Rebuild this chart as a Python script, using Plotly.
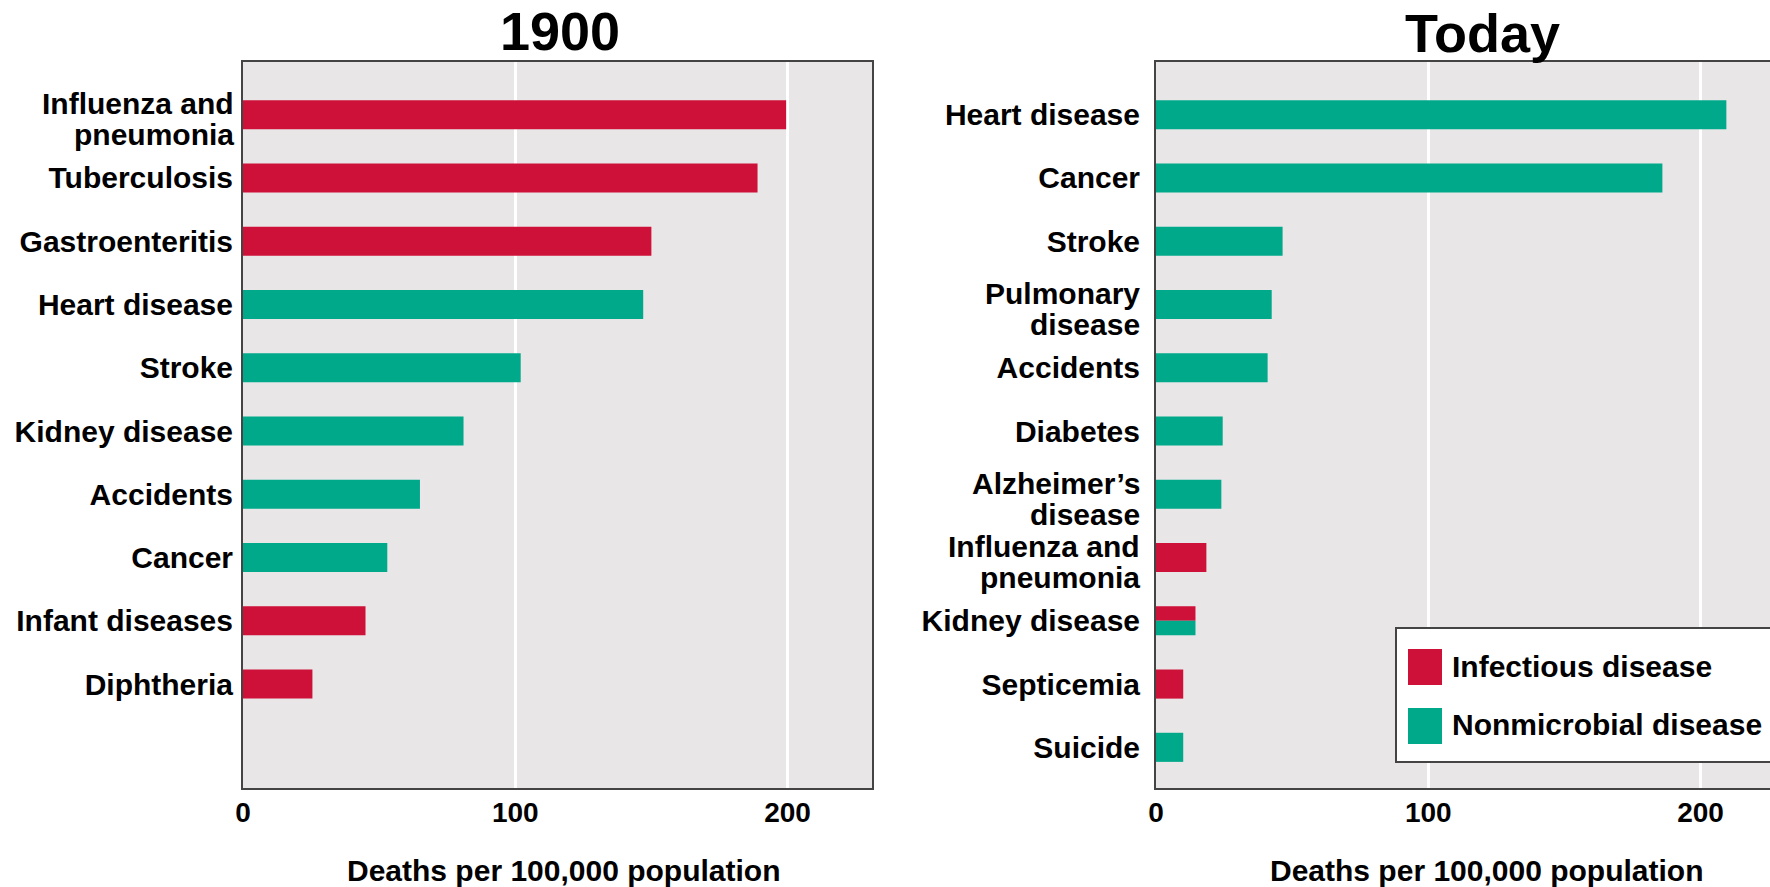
import plotly.graph_objects as go
from plotly.subplots import make_subplots

# ---------------- data ----------------
causes_1900 = ["Influenza and<br>pneumonia", "Tuberculosis", "Gastroenteritis", "Heart disease",
               "Stroke", "Kidney disease", "Accidents", "Cancer", "Infant diseases", "Diphtheria"]
values_1900 = [199.5, 189, 150, 147, 102, 81, 65, 53, 45, 25.5]
types_1900 = ["I", "I", "I", "N", "N", "N", "N", "N", "I", "I"]

causes_today = ["Heart disease", "Cancer", "Stroke", "Pulmonary<br>disease", "Accidents", "Diabetes",
                "Alzheimer’s<br>disease", "Influenza and<br>pneumonia", "Kidney disease", "Septicemia", "Suicide"]
values_today = [209.5, 186, 46.5, 42.5, 41, 24.5, 24, 18.5, 14.5, 10, 10]
# I = infectious, N = nonmicrobial, B = both (split bar)
types_today = ["N", "N", "N", "N", "N", "N", "N", "I", "B", "I", "N"]

panel_titles = ["1900", "Today"]
x_title = "Deaths per 100,000 population"
x_ticks = [0, 100, 200]
legend_names = ["Infectious disease", "Nonmicrobial disease"]

# ---------------- style ----------------
RED = "#CD1139"
TEAL = "#00A98A"
BG = "#E9E6E7"
FRAME = "#444444"
FONT = "Liberation Sans, Arial, Helvetica, sans-serif"
BAR_W = 0.46
W, H = 1770, 887
LABEL_SIZE = 30

fig = make_subplots(rows=1, cols=2)


def add_panel(causes, values, types, col):
    for kind, color in (("I", RED), ("N", TEAL)):
        ys, xs, widths, offsets = [], [], [], []
        for c, v, t in zip(causes, values, types):
            if t == kind:
                ys.append(c); xs.append(v); widths.append(BAR_W); offsets.append(-BAR_W / 2)
            elif t == "B":
                ys.append(c); xs.append(v); widths.append(BAR_W / 2)
                offsets.append(-BAR_W / 2 if kind == "I" else 0)
        fig.add_trace(go.Bar(y=ys, x=xs, orientation="h", marker=dict(color=color, line=dict(width=0)),
                             width=widths, offset=offsets, showlegend=False, hoverinfo="x+y"),
                      row=1, col=col)


add_panel(causes_1900, values_1900, types_1900, 1)
add_panel(causes_today, values_today, types_today, 2)

PX_PER_UNIT = 2.7225
left_x0, left_x1 = 243, 872
right_x0, right_x1 = 1156, W
plot_top, plot_bot = 62, 788
ydom = [1 - plot_bot / H, 1 - plot_top / H]
yrange = [10.643, -0.833]

ytickfont = dict(family=FONT, size=LABEL_SIZE, color="black", weight="bold")
xtickfont = dict(family=FONT, size=28, color="black", weight="bold")

common_x = dict(tickvals=x_ticks, showgrid=True, gridcolor="white", gridwidth=3, zeroline=False,
                showline=True, linecolor=FRAME, linewidth=2, ticks="", tickfont=xtickfont,
                ticklabelstandoff=-2, fixedrange=True, automargin=False)
common_y = dict(type="category", range=yrange, showgrid=False, zeroline=False, showline=True,
                linecolor=FRAME, linewidth=2, ticks="", tickfont=ytickfont,
                fixedrange=True, automargin=False)


def ticktexts(causes):
    # multi-line labels are drawn line by line as annotations (tighter line spacing)
    return [c if "<br>" not in c else "" for c in causes]


fig.update_xaxes(common_x, row=1, col=1, domain=[left_x0 / W, left_x1 / W],
                 range=[0, (left_x1 - left_x0) / PX_PER_UNIT], mirror=True)
fig.update_xaxes(common_x, row=1, col=2, domain=[right_x0 / W, 1.0],
                 range=[0, (right_x1 - right_x0) / PX_PER_UNIT], mirror=True)
fig.update_yaxes(common_y, row=1, col=1, domain=ydom, categoryorder="array",
                 categoryarray=causes_1900, tickvals=causes_1900, ticktext=ticktexts(causes_1900),
                 ticklabelstandoff=2, mirror=True)
fig.update_yaxes(common_y, row=1, col=2, domain=ydom, categoryorder="array",
                 categoryarray=causes_today, tickvals=causes_today, ticktext=ticktexts(causes_today),
                 ticklabelstandoff=8, mirror=False)

annotations = []
# two-line category labels
for causes, ax, gap in ((causes_1900, "", 7), (causes_today, "2", 14)):
    for c in causes:
        if "<br>" in c:
            lines = c.split("<br>")
            for line, shift in zip(lines, (11, -20)):
                annotations.append(dict(text=line, xref=f"x{ax} domain", x=0, xanchor="right",
                                        xshift=-gap, yref=f"y{ax}", y=c, yanchor="middle",
                                        yshift=shift, showarrow=False, align="right",
                                        font=dict(family=FONT, size=LABEL_SIZE, color="black",
                                                  weight="bold")))
# panel titles
annotations.append(dict(text=panel_titles[0], x=560 / W, y=1 - 31 / H, xref="paper", yref="paper",
                        xanchor="center", yanchor="middle", showarrow=False,
                        font=dict(family=FONT, size=54, color="black", weight="bold")))
annotations.append(dict(text=panel_titles[1], x=1482 / W, y=1 - 32.5 / H, xref="paper", yref="paper",
                        xanchor="center", yanchor="middle", showarrow=False,
                        font=dict(family=FONT, size=54, color="black", weight="bold")))
# axis titles
for xc in (563, 1486):
    annotations.append(dict(text=x_title, x=xc / W, y=1 - 870 / H, xref="paper", yref="paper",
                            xanchor="center", yanchor="middle", showarrow=False,
                            font=dict(family=FONT, size=30, color="black", weight="bold")))
# legend texts
for name, yc in zip(legend_names, (666, 724)):
    annotations.append(dict(text=name, x=1450 / W, y=1 - yc / H, xref="paper", yref="paper",
                            xanchor="left", yanchor="middle", showarrow=False,
                            font=dict(family=FONT, size=30, color="black", weight="bold")))

shapes = [
    # legend box
    dict(type="rect", xref="paper", yref="paper", x0=1396 / W, x1=1.01, y0=1 - 762 / H, y1=1 - 628 / H,
         fillcolor="white", line=dict(color=FRAME, width=2), layer="above"),
    dict(type="rect", xref="paper", yref="paper", x0=1408 / W, x1=1442 / W, y0=1 - 685 / H, y1=1 - 649 / H,
         fillcolor=RED, line=dict(width=0), layer="above"),
    dict(type="rect", xref="paper", yref="paper", x0=1408 / W, x1=1442 / W, y0=1 - 744 / H, y1=1 - 708 / H,
         fillcolor=TEAL, line=dict(width=0), layer="above"),
]

fig.update_layout(
    width=W, height=H, autosize=False,
    margin=dict(l=0, r=0, t=0, b=0, autoexpand=False),
    paper_bgcolor="white", plot_bgcolor=BG,
    barmode="overlay", showlegend=False,
    font=dict(family=FONT, color="black"),
    annotations=annotations, shapes=shapes,
)

fig.write_html("out.html", config={"displayModeBar": False},
               post_script="document.body.style.margin='0';document.body.style.overflow='hidden';")
